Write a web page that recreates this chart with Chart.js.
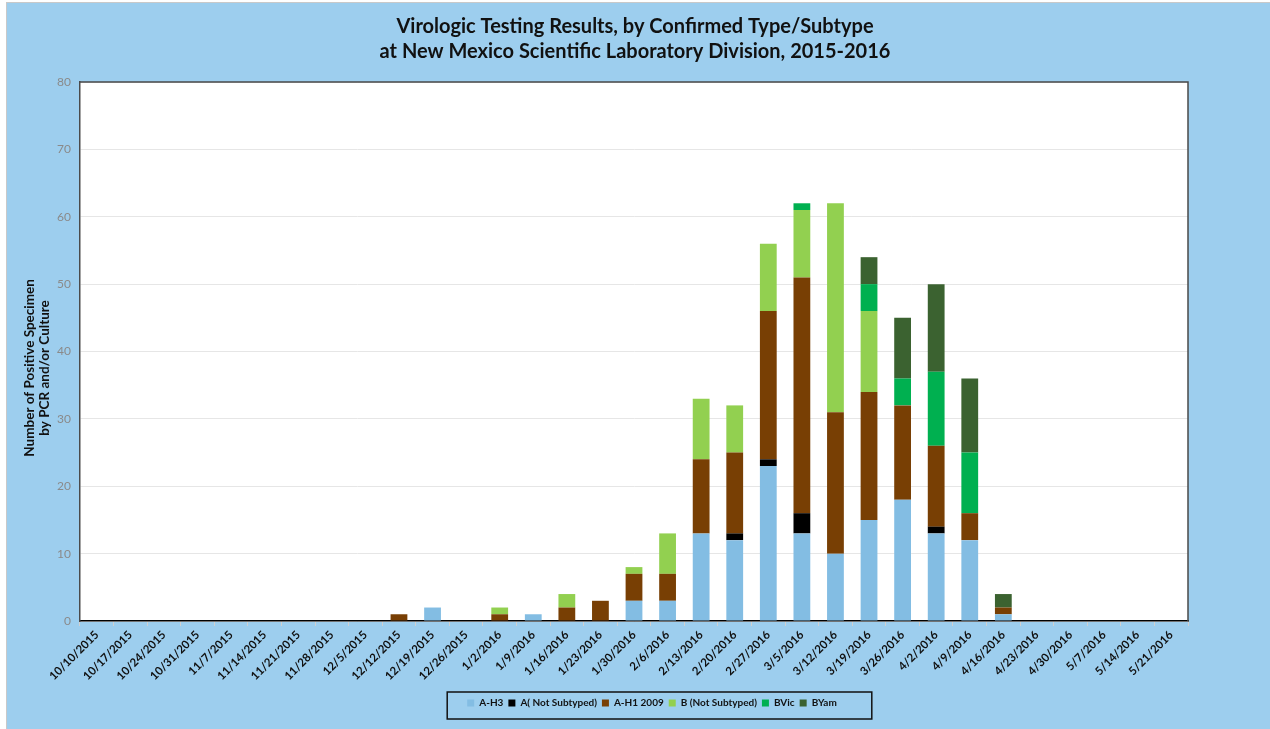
<!DOCTYPE html>
<html>
<head>
<meta charset="utf-8">
<script src="https://cdn.jsdelivr.net/npm/chart.js@4.4.1/dist/chart.umd.min.js"></script>
<style>
  html, body { margin: 0; padding: 0; background: #fff; }
  #wrap { width: 1270px; height: 729px; }
</style>
</head>
<body>
<div id="wrap"><canvas id="fluChart" width="1270" height="729"></canvas></div>
<script>
// week ending dates
const weeks = [
  "10/10/2015", "10/17/2015", "10/24/2015", "10/31/2015", "11/7/2015", "11/14/2015",
  "11/21/2015", "11/28/2015", "12/5/2015", "12/12/2015", "12/19/2015", "12/26/2015",
  "1/2/2016", "1/9/2016", "1/16/2016", "1/23/2016", "1/30/2016", "2/6/2016",
  "2/13/2016", "2/20/2016", "2/27/2016", "3/5/2016", "3/12/2016", "3/19/2016",
  "3/26/2016", "4/2/2016", "4/9/2016", "4/16/2016", "4/23/2016", "4/30/2016",
  "5/7/2016", "5/14/2016", "5/21/2016"
];

const aH3 =     [0,0,0,0,0,0,0,0,0,0,2,0, 0,1,0,0,3,3,13,12,23,13,10,15,18,13,12,1, 0,0,0,0,0];
const aNotSub = [0,0,0,0,0,0,0,0,0,0,0,0, 0,0,0,0,0,0, 0, 1, 1, 3, 0, 0, 0, 1, 0,0, 0,0,0,0,0];
const aH1 =     [0,0,0,0,0,0,0,0,0,1,0,0, 1,0,2,3,4,4,11,12,22,35,21,19,14,12, 4,1, 0,0,0,0,0];
const bNotSub = [0,0,0,0,0,0,0,0,0,0,0,0, 1,0,2,0,1,6, 9, 7,10,10,31,12, 0, 0, 0,0, 0,0,0,0,0];
const bVic =    [0,0,0,0,0,0,0,0,0,0,0,0, 0,0,0,0,0,0, 0, 0, 0, 1, 0, 4, 4,11, 9,0, 0,0,0,0,0];
const bYam =    [0,0,0,0,0,0,0,0,0,0,0,0, 0,0,0,0,0,0, 0, 0, 0, 0, 0, 4, 9,13,11,2, 0,0,0,0,0];

const yTicks = [0, 10, 20, 30, 40, 50, 60, 70, 80];

const BG_BLUE = "#9dceee";
const FONT = "Lato, 'Open Sans', sans-serif";
const LEGEND_SHIFT = 17;

// fundo azul, area branca do grafico e moldura
const framePlugin = {
  id: "frame",
  afterLayout(chart) {
    // legenda um pouco a direita como no original
    const lg = chart.legend;
    lg.left += LEGEND_SHIFT;
    lg.right += LEGEND_SHIFT;
  },
  beforeDraw(chart) {
    const { ctx, width, height, chartArea: a } = chart;
    ctx.save();
    ctx.fillStyle = "#ffffff";
    ctx.fillRect(0, 0, width, height);
    ctx.fillStyle = BG_BLUE;
    ctx.fillRect(6, 3, width - 6, height - 3);
    ctx.strokeStyle = "#c9c9c9";
    ctx.lineWidth = 1;
    ctx.beginPath();
    ctx.moveTo(6.5, 3); ctx.lineTo(6.5, height);
    ctx.moveTo(6, 2.5); ctx.lineTo(width, 2.5);
    ctx.stroke();
    ctx.fillStyle = "#ffffff";
    ctx.fillRect(a.left, a.top, a.right - a.left, a.bottom - a.top);
    ctx.restore();
  },
  afterDraw(chart) {
    const { ctx, chartArea: a, legend } = chart;
    ctx.save();
    ctx.strokeStyle = "#4a4a4a";
    ctx.lineWidth = 1.5;
    ctx.beginPath();
    ctx.moveTo(a.left, a.top); ctx.lineTo(a.right, a.top); ctx.lineTo(a.right, a.bottom);
    ctx.stroke();
    // caixa da legenda
    const boxes = legend.legendHitBoxes || [];
    if (boxes.length) {
      let minX = Infinity, maxX = -Infinity;
      boxes.forEach(b => {
        minX = Math.min(minX, b.left);
        maxX = Math.max(maxX, b.left + b.width);
      });
      const cy = (legend.top + legend.bottom) / 2;
      ctx.strokeStyle = "#111111";
      ctx.lineWidth = 1.5;
      ctx.strokeRect(minX - 20, cy - 13.5, maxX - minX + 55, 27);
    }
    ctx.restore();
  }
};

function ds(label, data, color) {
  return {
    label: label,
    data: data,
    backgroundColor: color,
    borderWidth: 0,
    categoryPercentage: 1.0,
    barPercentage: 0.5
  };
}

const ctx = document.getElementById("fluChart").getContext("2d");

new Chart(ctx, {
  type: "bar",
  data: {
    labels: weeks,
    datasets: [
      ds("A-H3", aH3, "#83bde3"),
      ds("A( Not Subtyped)", aNotSub, "#000000"),
      ds("A-H1 2009", aH1, "#783f04"),
      ds("B (Not Subtyped)", bNotSub, "#92d050"),
      ds("BVic", bVic, "#00b050"),
      ds("BYam", bYam, "#3b6230")
    ]
  },
  options: {
    responsive: false,
    animation: false,
    layout: { padding: { left: 10, right: 10, top: 4, bottom: 11 } },
    plugins: {
      title: {
        display: true,
        text: ["Virologic Testing Results, by Confirmed Type/Subtype",
               "at New Mexico Scientific Laboratory Division, 2015-2016"],
        color: "#111111",
        font: { family: FONT, size: 20, weight: "bold", lineHeight: 1.25 },
        padding: { top: 10, bottom: 18 }
      },
      legend: {
        position: "bottom",
        labels: {
          color: "#111111",
          boxWidth: 7,
          boxHeight: 7,
          padding: 5,
          font: { family: FONT, size: 10, weight: "bold" }
        }
      },
      tooltip: { enabled: false }
    },
    scales: {
      x: {
        stacked: true,
        grid: { drawOnChartArea: false, drawTicks: true, tickLength: 5, color: "#d0d0d0" },
        border: { display: true, color: "#000000", width: 1.5 },
        ticks: {
          autoSkip: false,
          minRotation: 45,
          maxRotation: 45,
          padding: 2,
          color: "#111111",
          font: { family: FONT, size: 11.5, weight: "bold" }
        },
        afterFit(scale) { scale.height = 72; }
      },
      y: {
        stacked: true,
        min: 0,
        max: 80,
        afterBuildTicks(scale) { scale.ticks = yTicks.map(v => ({ value: v })); },
        grid: { color: "#e6e6e6", drawTicks: false },
        border: { display: true, color: "#4a4a4a", width: 1.5 },
        ticks: {
          padding: 9,
          color: "#8a8a8a",
          font: { family: FONT, size: 12 }
        },
        title: {
          display: true,
          // espacos no fim empurram o texto para baixo, como no original
          text: ["Number of Positive Specimen          ", "by PCR and/or Culture          "],
          color: "#111111",
          font: { family: FONT, size: 13.5, weight: "bold", lineHeight: 1.1 },
          padding: { top: 12, bottom: 4 }
        },
        afterFit(scale) { scale.width = 70; }
      },
      // eixo vazio a direita, so para reservar a margem
      yRight: {
        position: "right",
        display: true,
        grid: { display: false, drawTicks: false },
        border: { display: false },
        ticks: { display: false },
        afterFit(scale) { scale.width = 72; }
      }
    }
  },
  plugins: [framePlugin]
});
</script>
</body>
</html>
